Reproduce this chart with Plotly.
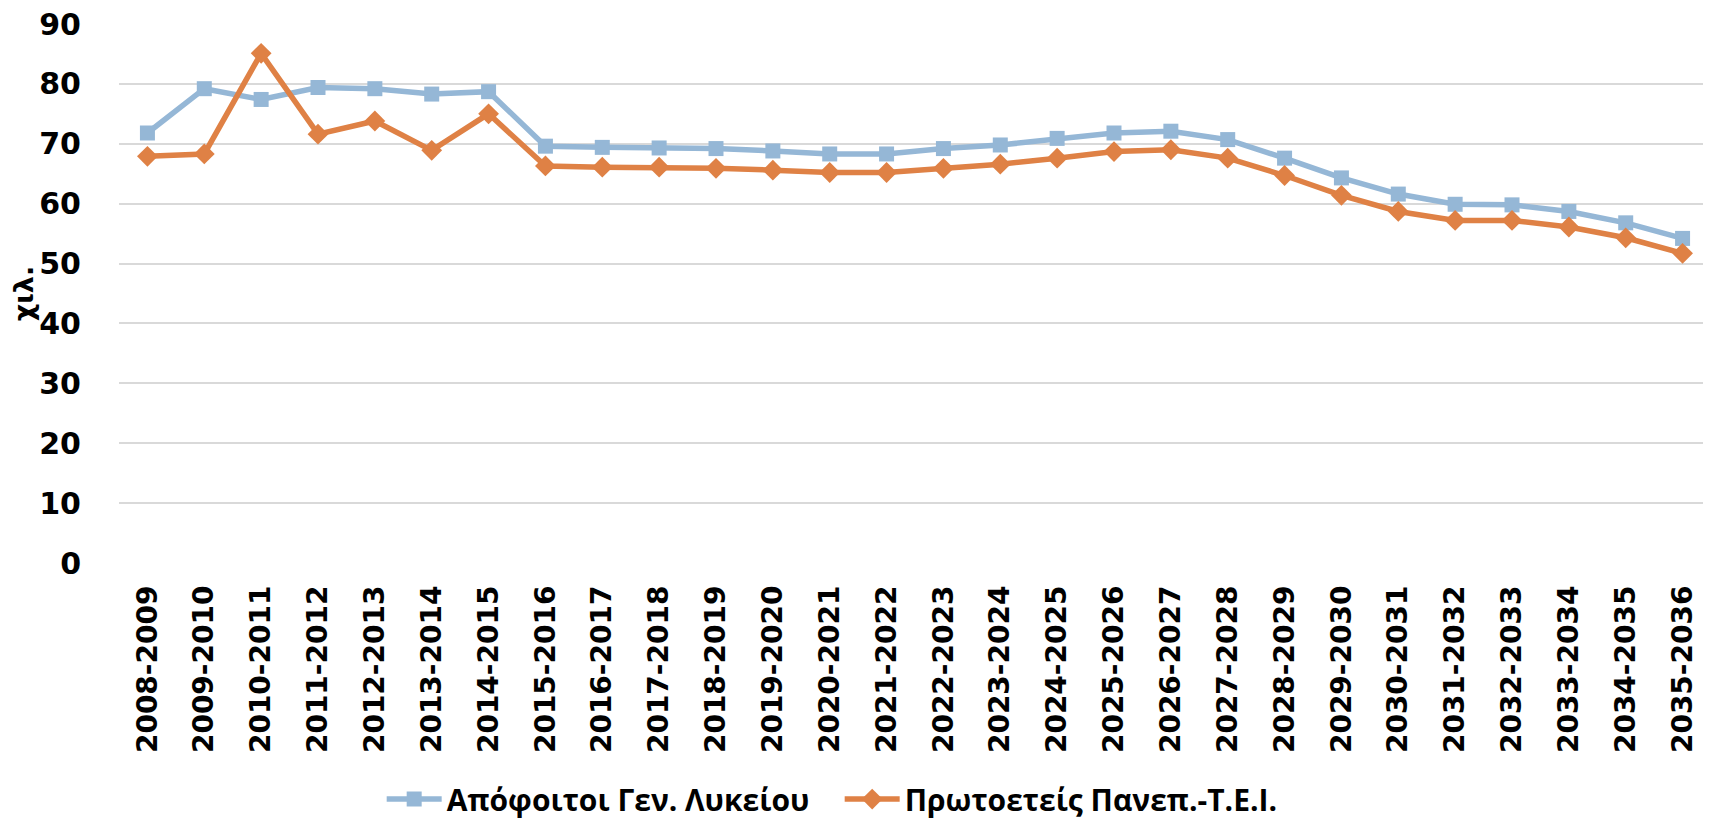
import plotly.graph_objects as go

years = [
    "2008-2009", "2009-2010", "2010-2011", "2011-2012", "2012-2013", "2013-2014",
    "2014-2015", "2015-2016", "2016-2017", "2017-2018", "2018-2019", "2019-2020",
    "2020-2021", "2021-2022", "2022-2023", "2023-2024", "2024-2025", "2025-2026",
    "2026-2027", "2027-2028", "2028-2029", "2029-2030", "2030-2031", "2031-2032",
    "2032-2033", "2033-2034", "2034-2035", "2035-2036",
]

apofoitoi = [
    71.8, 79.2, 77.4, 79.4, 79.2, 78.3, 78.7, 69.6, 69.4, 69.3, 69.2, 68.8,
    68.3, 68.3, 69.2, 69.8, 70.9, 71.8, 72.1, 70.7, 67.6, 64.3, 61.6, 59.9,
    59.8, 58.7, 56.8, 54.2,
]

prwtoeteis = [
    67.9, 68.3, 85.1, 71.6, 73.8, 68.9, 75.0, 66.3, 66.1, 66.1, 65.9, 65.6,
    65.2, 65.2, 65.9, 66.6, 67.6, 68.7, 69.0, 67.6, 64.7, 61.4, 58.7, 57.2,
    57.2, 56.1, 54.3, 51.7,
]

y_ticks = [0, 10, 20, 30, 40, 50, 60, 70, 80, 90]

FONT = "DejaVu Sans"
LEGEND_FONT = "Open Sans"
BLUE = "#95B7D6"
ORANGE = "#DF8145"

fig = go.Figure()
fig.add_trace(
    go.Scatter(
        x=years,
        y=apofoitoi,
        name="Απόφοιτοι Γεν. Λυκείου",
        mode="lines+markers",
        line=dict(color=BLUE, width=5.5),
        marker=dict(symbol="square", size=15, color=BLUE),
    )
)
fig.add_trace(
    go.Scatter(
        x=years,
        y=prwtoeteis,
        name="Πρωτοετείς Πανεπ.-Τ.Ε.Ι.",
        mode="lines+markers",
        line=dict(color=ORANGE, width=5.5),
        marker=dict(symbol="diamond", size=16, color=ORANGE),
    )
)

fig.update_xaxes(
    range=[-0.5, len(years) - 0.5],
    tickangle=-90,
    tickfont=dict(family=FONT, size=28, color="black", weight="bold"),
    showgrid=False,
    showline=False,
    ticks="",
    ticklabelstandoff=16,
    automargin=False,
)
fig.update_yaxes(
    range=[0, 90],
    tickvals=y_ticks,
    tickfont=dict(family=FONT, size=30, color="black", weight="bold"),
    ticklabeloverflow="allow",
    gridcolor="#D9D9D9",
    gridwidth=2,
    zeroline=False,
    showline=False,
    ticklabelstandoff=37,
    automargin=False,
    title=dict(
        text="χιλ.",
        font=dict(family=FONT, size=27, color="black", weight="bold"),
        standoff=4,
    ),
)
# the page adds an 8px margin around the figure, so it is 8px smaller
fig.update_layout(
    width=1703,
    height=814,
    plot_bgcolor="white",
    paper_bgcolor="white",
    margin=dict(l=111, r=0, t=16, b=259, autoexpand=False),
    legend=dict(
        orientation="h",
        x=0.165,
        xanchor="left",
        y=-0.438,
        yanchor="middle",
        font=dict(family=LEGEND_FONT, size=30, color="black", weight="bold"),
        itemwidth=55,
        entrywidth=388,
        tracegroupgap=0,
    ),
    showlegend=True,
)

fig.write_html("out.html")
